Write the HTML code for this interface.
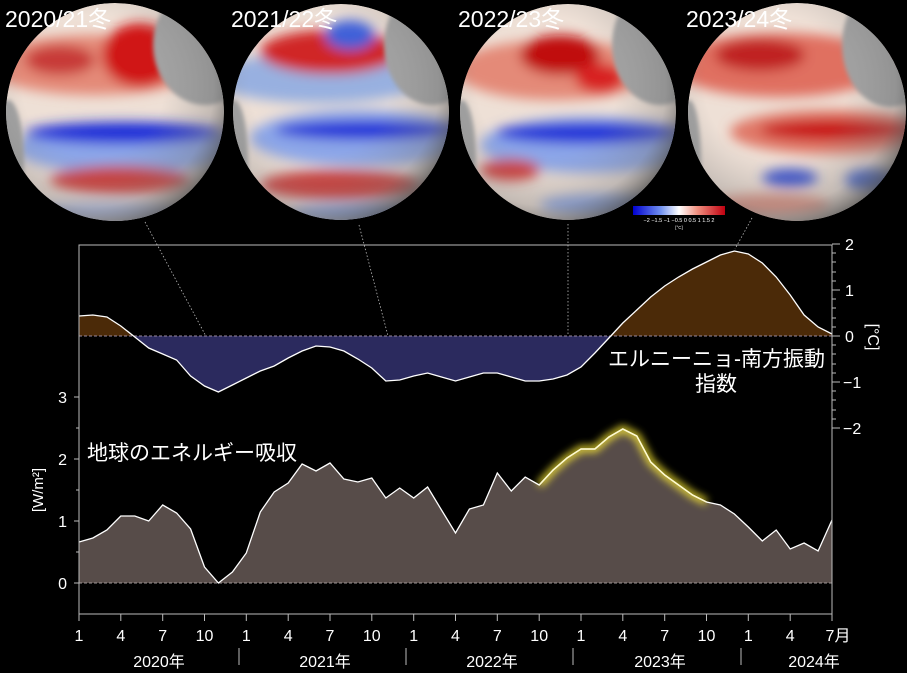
<!DOCTYPE html>
<html><head><meta charset="utf-8"><style>
html,body{margin:0;padding:0;background:#000;}
svg{display:block;font-family:"Liberation Sans","Noto Sans CJK JP",sans-serif;}
</style></head><body>
<svg width="907" height="673" viewBox="0 0 907 673" xmlns="http://www.w3.org/2000/svg">
<defs>
<filter id="bl" x="-30%" y="-30%" width="160%" height="160%"><feGaussianBlur stdDeviation="6"/></filter>
<filter id="bl2" x="-30%" y="-30%" width="160%" height="160%"><feGaussianBlur stdDeviation="2"/></filter>
<filter id="glow" x="-20%" y="-50%" width="140%" height="200%"><feGaussianBlur stdDeviation="4"/></filter>
<radialGradient id="shade" cx="0.4" cy="0.38" r="0.65">
<stop offset="0.5" stop-color="#888" stop-opacity="0"/>
<stop offset="0.85" stop-color="#777" stop-opacity="0.35"/>
<stop offset="1" stop-color="#555" stop-opacity="0.75"/>
</radialGradient>
<clipPath id="c1"><circle cx="115" cy="112" r="109"/></clipPath>
<clipPath id="c2"><circle cx="341" cy="112" r="108"/></clipPath>
<clipPath id="c3"><circle cx="568" cy="112" r="108"/></clipPath>
<clipPath id="c4"><circle cx="797" cy="112" r="109"/></clipPath>
<clipPath id="above"><rect x="79" y="240" width="760" height="96"/></clipPath>
<clipPath id="below"><rect x="79" y="336" width="760" height="100"/></clipPath>
</defs>

<!-- Globe 1 -->
<g clip-path="url(#c1)">
<circle cx="115" cy="112" r="109" fill="#eee0d6"/>
<g filter="url(#bl)">
<ellipse cx="95" cy="65" rx="110" ry="30" fill="#e48a78"/>
<ellipse cx="140" cy="55" rx="38" ry="32" fill="#d01818"/>
<ellipse cx="60" cy="60" rx="35" ry="15" fill="#c83a38"/>
<ellipse cx="125" cy="148" rx="110" ry="26" fill="#8ca6e8"/>
<ellipse cx="125" cy="133" rx="100" ry="11" fill="#1c2ed8"/>
<ellipse cx="120" cy="180" rx="70" ry="14" fill="#d03a38"/>
<ellipse cx="100" cy="212" rx="80" ry="9" fill="#b0bde8"/>
</g>
<ellipse cx="205" cy="45" rx="52" ry="60" fill="#a2a2a2" filter="url(#bl2)"/>
<ellipse cx="8" cy="160" rx="16" ry="60" fill="#a2a2a2" filter="url(#bl2)"/>
<circle cx="115" cy="112" r="109" fill="url(#shade)"/>
</g>
<!-- Globe 2 -->
<g clip-path="url(#c2)">
<circle cx="341" cy="112" r="108" fill="#eee0d6"/>
<g filter="url(#bl)">
<ellipse cx="320" cy="78" rx="110" ry="25" fill="#98b0e0"/>
<ellipse cx="330" cy="52" rx="70" ry="22" fill="#d02828"/>
<ellipse cx="350" cy="35" rx="25" ry="15" fill="#4060d8"/>
<ellipse cx="360" cy="138" rx="110" ry="28" fill="#8ca6e8"/>
<ellipse cx="370" cy="130" rx="95" ry="10" fill="#2034d8"/>
<ellipse cx="340" cy="185" rx="80" ry="15" fill="#d03a38"/>
<ellipse cx="360" cy="213" rx="70" ry="9" fill="#8ca6e8"/>
</g>
<ellipse cx="432" cy="45" rx="48" ry="60" fill="#a2a2a2" filter="url(#bl2)"/>
<ellipse cx="234" cy="160" rx="14" ry="60" fill="#a2a2a2" filter="url(#bl2)"/>
<circle cx="341" cy="112" r="108" fill="url(#shade)"/>
</g>
<!-- Globe 3 -->
<g clip-path="url(#c3)">
<circle cx="568" cy="112" r="108" fill="#eee0d6"/>
<g filter="url(#bl)">
<ellipse cx="555" cy="70" rx="100" ry="30" fill="#e48a78"/>
<ellipse cx="560" cy="55" rx="40" ry="20" fill="#c01010"/>
<ellipse cx="600" cy="78" rx="25" ry="15" fill="#d82020"/>
<ellipse cx="590" cy="145" rx="110" ry="28" fill="#8ca6e8"/>
<ellipse cx="590" cy="133" rx="95" ry="11" fill="#2034d8"/>
<ellipse cx="510" cy="170" rx="30" ry="11" fill="#d03a38"/>
<ellipse cx="600" cy="205" rx="60" ry="11" fill="#8ca6e8"/>
</g>
<ellipse cx="660" cy="45" rx="48" ry="60" fill="#a2a2a2" filter="url(#bl2)"/>
<ellipse cx="462" cy="160" rx="14" ry="60" fill="#a2a2a2" filter="url(#bl2)"/>
<circle cx="568" cy="112" r="108" fill="url(#shade)"/>
</g>
<!-- Globe 4 -->
<g clip-path="url(#c4)">
<circle cx="797" cy="112" r="109" fill="#eee0d6"/>
<g filter="url(#bl)">
<ellipse cx="780" cy="65" rx="110" ry="32" fill="#e07060"/>
<ellipse cx="760" cy="55" rx="45" ry="16" fill="#c02020"/>
<ellipse cx="830" cy="132" rx="100" ry="22" fill="#e07868"/>
<ellipse cx="840" cy="130" rx="80" ry="11" fill="#c81818"/>
<ellipse cx="790" cy="178" rx="28" ry="9" fill="#3850d0"/>
<ellipse cx="870" cy="180" rx="25" ry="11" fill="#4060d0"/>
<ellipse cx="770" cy="205" rx="60" ry="11" fill="#e09080"/>
</g>
<ellipse cx="890" cy="45" rx="48" ry="62" fill="#a2a2a2" filter="url(#bl2)"/>
<ellipse cx="689" cy="160" rx="12" ry="60" fill="#a2a2a2" filter="url(#bl2)"/>
<circle cx="797" cy="112" r="109" fill="url(#shade)"/>
</g>

<!-- globe titles -->
<g fill="#fff" font-size="23">
<text x="5" y="27">2020/21冬</text>
<text x="231" y="27">2021/22冬</text>
<text x="458" y="27">2022/23冬</text>
<text x="686" y="27">2023/24冬</text>
</g>

<!-- colorbar -->
<defs><linearGradient id="cb" x1="0" x2="1">
<stop offset="0" stop-color="#0000d0"/><stop offset="0.3" stop-color="#7090f0"/><stop offset="0.5" stop-color="#fff"/><stop offset="0.7" stop-color="#f09080"/><stop offset="1" stop-color="#c00010"/></linearGradient></defs>
<rect x="633" y="206" width="92" height="9" fill="url(#cb)"/>
<text x="679" y="222" fill="#fff" font-size="5.5" text-anchor="middle">−2 −1.5 −1 −0.5  0  0.5  1  1.5  2</text>
<text x="679" y="229" fill="#fff" font-size="4.5" text-anchor="middle">[°C]</text>

<!-- dotted connectors -->
<g stroke="#bbb" stroke-width="0.8" stroke-dasharray="1.5,2" fill="none">
<line x1="145" y1="222" x2="232" y2="385"/>
<line x1="359" y1="225" x2="399" y2="378"/>
<line x1="568" y1="224" x2="568" y2="367"/>
<line x1="752" y1="218" x2="735" y2="249"/>
</g>

<!-- ENSO area -->
<g clip-path="url(#above)">
<polygon fill="#4b2a08" points="79,336 79,316 92.9,315 106.9,317 120.8,326 134.8,337 148.7,348 162.7,354 176.6,360 190.6,376 204.5,386 218.4,392 232.4,385 246.3,378 260.3,371 274.2,366 288.2,358 302.1,351 316,346 330,347 343.9,351 357.9,359 371.8,368 385.8,381 399.7,380 413.7,376 427.6,373 441.5,377 455.5,381 469.4,377 483.4,373 497.3,373 511.3,377 525.2,381 539.2,381 553.1,379 567,375 581,367 594.9,353 608.9,338 622.8,323 636.8,310 650.7,297 664.7,286 678.6,277 692.5,269 706.5,262 720.4,255 734.4,251 748.3,254 762.3,263 776.2,277 790.2,295 804.1,315 818.1,327 832,334 832,336"/>
</g>
<g clip-path="url(#below)">
<polygon fill="#2b2a5e" points="79,336 79,316 92.9,315 106.9,317 120.8,326 134.8,337 148.7,348 162.7,354 176.6,360 190.6,376 204.5,386 218.4,392 232.4,385 246.3,378 260.3,371 274.2,366 288.2,358 302.1,351 316,346 330,347 343.9,351 357.9,359 371.8,368 385.8,381 399.7,380 413.7,376 427.6,373 441.5,377 455.5,381 469.4,377 483.4,373 497.3,373 511.3,377 525.2,381 539.2,381 553.1,379 567,375 581,367 594.9,353 608.9,338 622.8,323 636.8,310 650.7,297 664.7,286 678.6,277 692.5,269 706.5,262 720.4,255 734.4,251 748.3,254 762.3,263 776.2,277 790.2,295 804.1,315 818.1,327 832,334 832,336"/>
</g>
<line x1="79" y1="336" x2="832" y2="336" stroke="#9a8aa0" stroke-width="1" stroke-dasharray="3,2"/>
<polyline fill="none" stroke="#fff" stroke-width="1.3" points="79,316 92.9,315 106.9,317 120.8,326 134.8,337 148.7,348 162.7,354 176.6,360 190.6,376 204.5,386 218.4,392 232.4,385 246.3,378 260.3,371 274.2,366 288.2,358 302.1,351 316,346 330,347 343.9,351 357.9,359 371.8,368 385.8,381 399.7,380 413.7,376 427.6,373 441.5,377 455.5,381 469.4,377 483.4,373 497.3,373 511.3,377 525.2,381 539.2,381 553.1,379 567,375 581,367 594.9,353 608.9,338 622.8,323 636.8,310 650.7,297 664.7,286 678.6,277 692.5,269 706.5,262 720.4,255 734.4,251 748.3,254 762.3,263 776.2,277 790.2,295 804.1,315 818.1,327 832,334"/>

<!-- Energy area -->
<polygon fill="#574c49" points="79,583 79,542 92.9,538 106.9,530 120.8,516 134.8,516 148.7,521 162.7,505 176.6,513 190.6,529 204.5,567 218.4,583 232.4,572 246.3,553 260.3,512 274.2,492 288.2,483 302.1,464 316,471 330,463 343.9,479 357.9,482 371.8,478 385.8,498 399.7,488 413.7,498 427.6,487 441.5,510 455.5,533 469.4,509 483.4,505 497.3,473 511.3,491 525.2,477 539.2,485 553.1,470 567,458 581,449 594.9,449 608.9,437 622.8,429 636.8,436 650.7,462 664.7,475 678.6,485 692.5,495 706.5,502 720.4,505 734.4,514 748.3,527 762.3,541 776.2,530 790.2,549 804.1,543 818.1,551 832,520 832,583"/>
<polyline fill="none" stroke="#ffee30" stroke-width="7" opacity="0.85" filter="url(#glow)" points="539.2,485 553.1,470 567,458 581,449 594.9,449 608.9,437 622.8,429 636.8,436 650.7,462 664.7,475 678.6,485 692.5,495 706.5,502"/>
<line x1="79" y1="583" x2="832" y2="583" stroke="#a09898" stroke-width="1" stroke-dasharray="3,2"/>
<polyline fill="none" stroke="#fff" stroke-width="1.3" points="79,542 92.9,538 106.9,530 120.8,516 134.8,516 148.7,521 162.7,505 176.6,513 190.6,529 204.5,567 218.4,583 232.4,572 246.3,553 260.3,512 274.2,492 288.2,483 302.1,464 316,471 330,463 343.9,479 357.9,482 371.8,478 385.8,498 399.7,488 413.7,498 427.6,487 441.5,510 455.5,533 469.4,509 483.4,505 497.3,473 511.3,491 525.2,477 539.2,485 553.1,470 567,458 581,449 594.9,449 608.9,437 622.8,429 636.8,436 650.7,462 664.7,475 678.6,485 692.5,495 706.5,502 720.4,505 734.4,514 748.3,527 762.3,541 776.2,530 790.2,549 804.1,543 818.1,551 832,520"/>
<polyline fill="none" stroke="#fffbd0" stroke-width="1.5" points="539.2,485 553.1,470 567,458 581,449 594.9,449 608.9,437 622.8,429 636.8,436 650.7,462 664.7,475 678.6,485 692.5,495 706.5,502"/>

<!-- frame -->
<rect x="79" y="245" width="753" height="369" fill="none" stroke="#bbb" stroke-width="1"/>

<!-- left axis ticks -->
<g stroke="#bbb" stroke-width="1">
<line x1="74" y1="583" x2="79" y2="583"/><line x1="76" y1="552" x2="79" y2="552"/>
<line x1="74" y1="521" x2="79" y2="521"/><line x1="76" y1="490" x2="79" y2="490"/>
<line x1="74" y1="459" x2="79" y2="459"/><line x1="76" y1="428" x2="79" y2="428"/>
<line x1="74" y1="397" x2="79" y2="397"/>
</g>
<g fill="#fff" font-size="16" text-anchor="end">
<text x="67" y="589">0</text><text x="67" y="527">1</text><text x="67" y="465">2</text><text x="67" y="403">3</text>
</g>
<text transform="translate(43,490) rotate(-90)" fill="#fff" font-size="15" text-anchor="middle">[W/m²]</text>

<!-- right axis ticks -->
<g stroke="#bbb" stroke-width="1">
<line x1="832" y1="244" x2="840" y2="244"/><line x1="832" y1="290" x2="840" y2="290"/>
<line x1="832" y1="336" x2="840" y2="336"/><line x1="832" y1="382" x2="840" y2="382"/>
<line x1="832" y1="428" x2="840" y2="428"/>
<line x1="832" y1="253" x2="836" y2="253"/><line x1="832" y1="262" x2="836" y2="262"/><line x1="832" y1="272" x2="836" y2="272"/><line x1="832" y1="281" x2="836" y2="281"/>
<line x1="832" y1="299" x2="836" y2="299"/><line x1="832" y1="308" x2="836" y2="308"/><line x1="832" y1="318" x2="836" y2="318"/><line x1="832" y1="327" x2="836" y2="327"/>
<line x1="832" y1="345" x2="836" y2="345"/><line x1="832" y1="354" x2="836" y2="354"/><line x1="832" y1="364" x2="836" y2="364"/><line x1="832" y1="373" x2="836" y2="373"/>
<line x1="832" y1="391" x2="836" y2="391"/><line x1="832" y1="400" x2="836" y2="400"/><line x1="832" y1="410" x2="836" y2="410"/><line x1="832" y1="419" x2="836" y2="419"/>
</g>
<g fill="#fff" font-size="16">
<text x="845" y="250">2</text><text x="845" y="296">1</text><text x="845" y="342">0</text><text x="843" y="388">−1</text><text x="843" y="434">−2</text>
</g>
<text transform="translate(868,337) rotate(90)" fill="#fff" font-size="16" text-anchor="middle">[°C]</text>

<!-- bottom ticks -->
<g stroke="#bbb" stroke-width="1">
<line x1="79" y1="614" x2="79" y2="621"/><line x1="120.8" y1="614" x2="120.8" y2="621"/><line x1="162.7" y1="614" x2="162.7" y2="621"/><line x1="204.5" y1="614" x2="204.5" y2="621"/>
<line x1="246.3" y1="614" x2="246.3" y2="621"/><line x1="288.2" y1="614" x2="288.2" y2="621"/><line x1="330" y1="614" x2="330" y2="621"/><line x1="371.8" y1="614" x2="371.8" y2="621"/>
<line x1="413.7" y1="614" x2="413.7" y2="621"/><line x1="455.5" y1="614" x2="455.5" y2="621"/><line x1="497.3" y1="614" x2="497.3" y2="621"/><line x1="539.2" y1="614" x2="539.2" y2="621"/>
<line x1="581" y1="614" x2="581" y2="621"/><line x1="622.8" y1="614" x2="622.8" y2="621"/><line x1="664.7" y1="614" x2="664.7" y2="621"/><line x1="706.5" y1="614" x2="706.5" y2="621"/>
<line x1="748.3" y1="614" x2="748.3" y2="621"/><line x1="790.2" y1="614" x2="790.2" y2="621"/><line x1="832" y1="614" x2="832" y2="621"/>
<line x1="239" y1="648" x2="239" y2="665"/><line x1="406" y1="648" x2="406" y2="665"/><line x1="573" y1="648" x2="573" y2="665"/><line x1="741" y1="648" x2="741" y2="665"/>
</g>
<g fill="#fff" font-size="16" text-anchor="middle">
<text x="79" y="641">1</text><text x="120.8" y="641">4</text><text x="162.7" y="641">7</text><text x="204.5" y="641">10</text>
<text x="246.3" y="641">1</text><text x="288.2" y="641">4</text><text x="330" y="641">7</text><text x="371.8" y="641">10</text>
<text x="413.7" y="641">1</text><text x="455.5" y="641">4</text><text x="497.3" y="641">7</text><text x="539.2" y="641">10</text>
<text x="581" y="641">1</text><text x="622.8" y="641">4</text><text x="664.7" y="641">7</text><text x="706.5" y="641">10</text>
<text x="748.3" y="641">1</text><text x="790.2" y="641">4</text><text x="838" y="641">7月</text>
<text x="159" y="667">2020年</text><text x="325" y="667">2021年</text><text x="492" y="667">2022年</text><text x="660" y="667">2023年</text><text x="814" y="667">2024年</text>
</g>

<!-- annotations -->
<text x="87" y="460" fill="#fff" font-size="21">地球のエネルギー吸収</text>
<text x="825" y="366" fill="#fff" font-size="21" text-anchor="end">エルニーニョ-南方振動</text>
<text x="716" y="391" fill="#fff" font-size="21" text-anchor="middle">指数</text>
</svg>
</body></html>
